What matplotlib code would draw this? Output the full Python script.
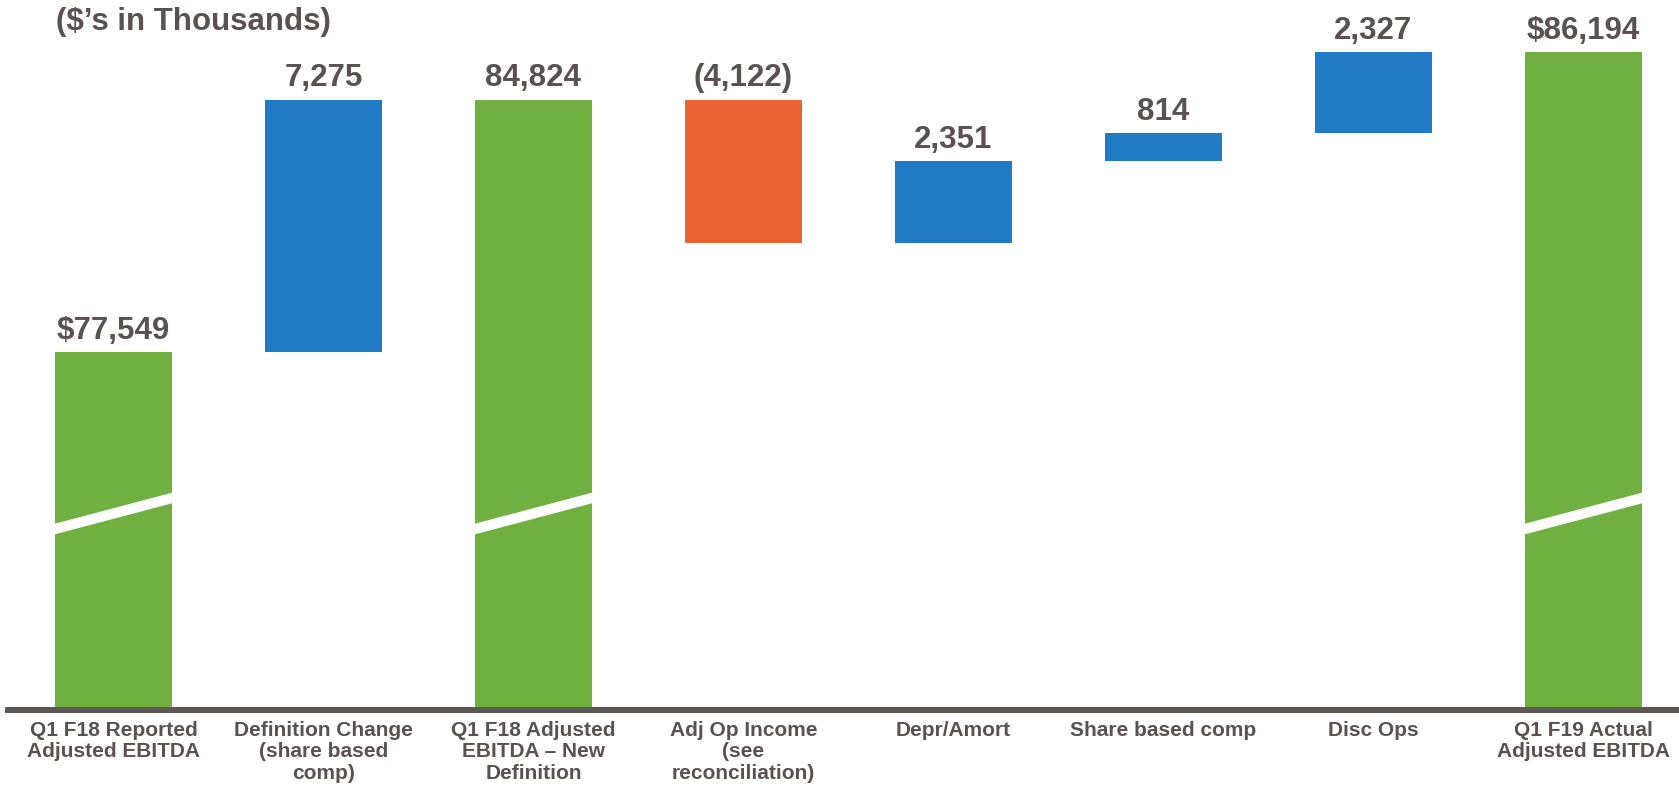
import matplotlib.pyplot as plt
from matplotlib.patches import Polygon

# Q1 EBITDA bridge, $ thousands
categories = [
    "Q1 F18 Reported\nAdjusted EBITDA",
    "Definition Change\n(share based\ncomp)",
    "Q1 F18 Adjusted\nEBITDA \u2013 New\nDefinition",
    "Adj Op Income\n(see\nreconciliation)",
    "Depr/Amort",
    "Share based comp",
    "Disc Ops",
    "Q1 F19 Actual\nAdjusted EBITDA",
]
kinds = ["total", "delta", "total", "delta", "delta", "delta", "delta", "total"]
amounts = [77549, 7275, 84824, -4122, 2351, 814, 2327, 86194]
dollar_sign = [True, False, False, False, False, False, False, True]

GREEN = "#6FB040"
BLUE = "#217BC4"
ORANGE = "#E96333"
TEXT = "#5A5150"
AXIS = "#5E5756"

plt.rcParams["font.family"] = ["Liberation Sans", "DejaVu Sans"]
plt.rcParams["font.weight"] = "bold"

W, H = 1679, 786
fig = plt.figure(figsize=(W / 100, H / 100), dpi=100)
ax = fig.add_axes([8 / W, 76 / H, (W - 8) / W, 710 / H])

y_floor, y_ceil = 67255, 87689
ax.set_ylim(y_floor, y_ceil)
ax.set_xlim(-0.502, 7.455)
width = 0.557

# build the waterfall segments
running = 0
for i, (kind, amt) in enumerate(zip(kinds, amounts)):
    if kind == "total":
        bottom, top = y_floor, amt
        color = GREEN
        running = amt
    else:
        lo, hi = sorted((running, running + amt))
        bottom, top = lo, hi
        color = BLUE if amt >= 0 else ORANGE
        running += amt
    ax.bar(i, top - bottom, bottom=bottom, width=width, color=color,
           linewidth=0, zorder=2)

    txt = f"{abs(amt):,}"
    if dollar_sign[i]:
        txt = "$" + txt
    if amt < 0:
        txt = f"({txt})"
    ax.annotate(txt, (i, top), xytext=(0, 9.5), textcoords="offset points",
                ha="center", va="baseline", fontsize=22.5,
                fontweight="bold", color=TEXT)

    # slanted white cut marking the broken axis on the total bars
    if kind == "total":
        x0, x1 = i - width / 2, i + width / 2
        yl, yr, half = y_floor + 5209, y_floor + 6101, 153
        ax.add_patch(Polygon([(x0, yl - half), (x1, yr - half),
                              (x1, yr + half), (x0, yl + half)],
                             closed=True, facecolor="white",
                             edgecolor="none", zorder=3))

for side in ["top", "right", "left"]:
    ax.spines[side].set_visible(False)
ax.spines["bottom"].set_color(AXIS)
ax.spines["bottom"].set_linewidth(4.3)
ax.spines["bottom"].set_zorder(4)

ax.set_yticks([])
ax.set_xticks(range(len(categories)))
ax.set_xticklabels(categories, fontsize=15, fontweight="bold", color=TEXT,
                   linespacing=1.15)
ax.tick_params(axis="x", length=0, pad=8)

fig.text(56 / W, 1 - 30 / H, "($\u2019s in Thousands)", fontsize=22.5,
         fontweight="bold", color=TEXT, ha="left", va="baseline")

fig.savefig("out.png", dpi=100)
